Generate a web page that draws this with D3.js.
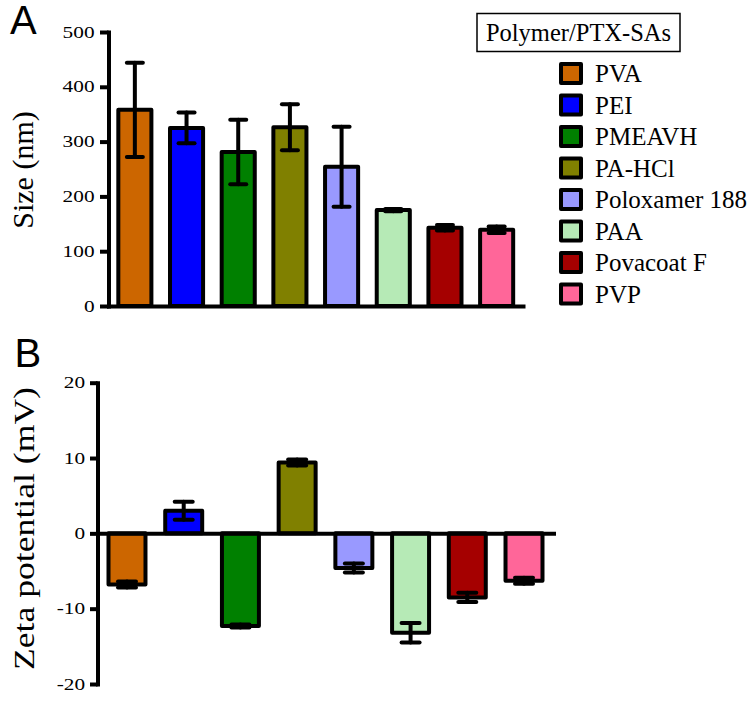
<!DOCTYPE html>
<html>
<head>
<meta charset="utf-8">
<script src="https://cdn.jsdelivr.net/npm/d3@7"></script>
<style>
  html, body { margin: 0; padding: 0; background: #fff; }
  svg { display: block; }
</style>
</head>
<body>
<svg id="chart" width="754" height="727"></svg>
<script>
// ---- Data ----
const categories = ["PVA", "PEI", "PMEAVH", "PA-HCl", "Poloxamer 188", "PAA", "Povacoat F", "PVP"];
const colors = ["#CC6600", "#0000FF", "#008000", "#808000", "#9999FF", "#B6EAB6", "#A50000", "#FF6699"];
const sizeValues = [358, 325, 281, 326, 254, 175, 143, 139];
const sizeErrors = [86, 28, 59, 42, 73, 2, 5, 6];
const zetaValues = [-6.8, 3.0, -12.3, 9.4, -4.6, -13.2, -8.5, -6.3];
const zetaErrors = [0.4, 1.2, 0.2, 0.4, 0.6, 1.3, 0.6, 0.4];
const sizeTicks = [0, 100, 200, 300, 400, 500];
const zetaTicks = [-20, -10, 0, 10, 20];
const legendTitle = "Polymer/PTX-SAs";

const svg = d3.select("#chart");
const serif = "Liberation Serif, Times New Roman, serif";
const sans = "Liberation Sans, Arial, sans-serif";

function styleAxis(g, labelGap) {
  g.select(".domain").attr("stroke", "#000").attr("stroke-width", 4).attr("stroke-linecap", "square");
  g.selectAll(".tick line").attr("stroke", "#000").attr("stroke-width", 4);
  g.selectAll(".tick text")
    .style("font-family", serif)
    .style("font-size", "16px")
    .attr("fill", "#000")
    .attr("x", -labelGap / 1.33)
    .attr("transform", "scale(1.33,1)");
}

// ---- Panel A: Size ----
const xA = d3.scaleBand().domain(categories).range([108.5, 523]).paddingInner(0.36).paddingOuter(0.19);
const yA = d3.scaleLinear().domain([0, 500]).range([306, 32]);

const gA = svg.append("g");
gA.selectAll("rect.bar").data(categories).join("rect")
  .attr("class", "bar")
  .attr("x", d => xA(d))
  .attr("width", xA.bandwidth())
  .attr("y", (d, i) => yA(sizeValues[i]))
  .attr("height", (d, i) => yA(0) - yA(sizeValues[i]))
  .attr("fill", (d, i) => colors[i])
  .attr("stroke", "#000").attr("stroke-width", 4).attr("stroke-linejoin", "round");

const errA = gA.selectAll("g.err").data(categories).join("g").attr("class", "err")
  .attr("stroke", "#000").attr("stroke-width", 4).attr("stroke-linecap", "round");
errA.append("line")
  .attr("x1", d => xA(d) + xA.bandwidth() / 2).attr("x2", d => xA(d) + xA.bandwidth() / 2)
  .attr("y1", (d, i) => yA(sizeValues[i] + sizeErrors[i]))
  .attr("y2", (d, i) => yA(sizeValues[i] - sizeErrors[i]));
[1, -1].forEach(s => {
  errA.append("line")
    .attr("x1", d => xA(d) + xA.bandwidth() / 2 - 8).attr("x2", d => xA(d) + xA.bandwidth() / 2 + 8)
    .attr("y1", (d, i) => yA(sizeValues[i] + s * sizeErrors[i]))
    .attr("y2", (d, i) => yA(sizeValues[i] + s * sizeErrors[i]));
});

const axAy = gA.append("g").attr("transform", "translate(108.5,0)")
  .call(d3.axisLeft(yA).tickValues(sizeTicks).tickSize(8.5).tickSizeOuter(0).tickFormat(d3.format("d")));
styleAxis(axAy, 14);
const axAx = gA.append("g").attr("transform", `translate(0,${yA(0)})`)
  .call(d3.axisBottom(xA).tickSize(0).tickSizeOuter(0).tickFormat(""));
styleAxis(axAx, 0);

gA.append("text").attr("transform", "translate(33,170) rotate(-90)")
  .attr("text-anchor", "middle").style("font-family", serif).style("font-size", "30px")
  .text("Size (nm)");
svg.append("text").attr("x", 10).attr("y", 34).style("font-family", sans).style("font-size", "40px").text("A");

// ---- Legend ----
const lg = svg.append("g");
lg.append("rect").attr("x", 477).attr("y", 13.5).attr("width", 203).attr("height", 38)
  .attr("fill", "#fff").attr("stroke", "#000").attr("stroke-width", 1.5);
lg.append("text").attr("x", 578.5).attr("y", 40.5).attr("text-anchor", "middle")
  .style("font-family", serif).style("font-size", "24.5px").text(legendTitle);
const li = lg.selectAll("g.item").data(categories).join("g").attr("class", "item")
  .attr("transform", (d, i) => `translate(561,${64 + i * 31.5})`);
li.append("rect").attr("width", 20).attr("height", 19)
  .attr("fill", (d, i) => colors[i]).attr("stroke", "#000").attr("stroke-width", 4).attr("stroke-linejoin", "round");
li.append("text").attr("x", 34).attr("y", 18).style("font-family", serif).style("font-size", "25px").text(d => d);

// ---- Panel B: Zeta potential ----
const xB = d3.scaleBand().domain(categories).range([97.5, 553.5]).paddingInner(0.348).paddingOuter(0.194);
const yB = d3.scaleLinear().domain([-20, 20]).range([684, 382.7]);

const gB = svg.append("g");
gB.selectAll("rect.bar").data(categories).join("rect")
  .attr("class", "bar")
  .attr("x", d => xB(d))
  .attr("width", xB.bandwidth())
  .attr("y", (d, i) => yB(Math.max(0, zetaValues[i])))
  .attr("height", (d, i) => Math.abs(yB(zetaValues[i]) - yB(0)))
  .attr("fill", (d, i) => colors[i])
  .attr("stroke", "#000").attr("stroke-width", 4).attr("stroke-linejoin", "round");

const errB = gB.selectAll("g.err").data(categories).join("g").attr("class", "err")
  .attr("stroke", "#000").attr("stroke-width", 4).attr("stroke-linecap", "round");
errB.append("line")
  .attr("x1", d => xB(d) + xB.bandwidth() / 2).attr("x2", d => xB(d) + xB.bandwidth() / 2)
  .attr("y1", (d, i) => yB(zetaValues[i] + zetaErrors[i]))
  .attr("y2", (d, i) => yB(zetaValues[i] - zetaErrors[i]));
[1, -1].forEach(s => {
  errB.append("line")
    .attr("x1", d => xB(d) + xB.bandwidth() / 2 - 9).attr("x2", d => xB(d) + xB.bandwidth() / 2 + 9)
    .attr("y1", (d, i) => yB(zetaValues[i] + s * zetaErrors[i]))
    .attr("y2", (d, i) => yB(zetaValues[i] + s * zetaErrors[i]));
});

const axBy = gB.append("g").attr("transform", "translate(97.5,0)")
  .call(d3.axisLeft(yB).tickValues(zetaTicks).tickSize(7.5).tickSizeOuter(0).tickFormat(d => d3.format("d")(d).replace("−", "-")));
styleAxis(axBy, 12.5);
const axBx = gB.append("g").attr("transform", `translate(0,${yB(0)})`)
  .call(d3.axisBottom(xB).tickSize(0).tickSizeOuter(0).tickFormat(""));
styleAxis(axBx, 0);

gB.append("text").attr("transform", "translate(34,528.5) rotate(-90)")
  .attr("text-anchor", "middle").style("font-family", serif).style("font-size", "30px")
  .attr("textLength", 283).attr("lengthAdjust", "spacingAndGlyphs")
  .text("Zeta potential (mV)");
svg.append("text").attr("x", 14.5).attr("y", 367).style("font-family", sans).style("font-size", "40px").text("B");
</script>
</body>
</html>
